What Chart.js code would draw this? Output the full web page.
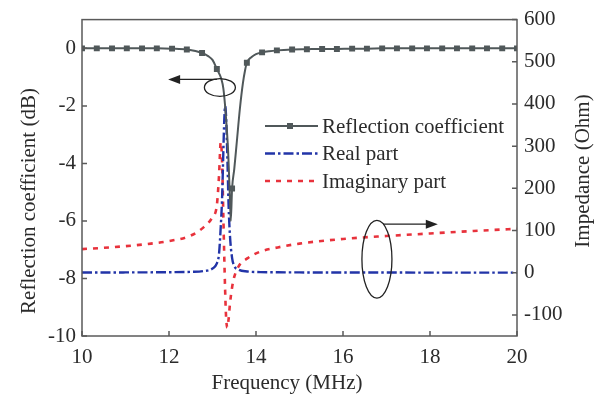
<!DOCTYPE html>
<html lang="en">
<head>
<meta charset="utf-8">
<title>Reflection coefficient and impedance</title>
<script src="https://cdn.jsdelivr.net/npm/chart.js@4/dist/chart.umd.min.js"></script>
<style>
  html, body { margin: 0; padding: 0; background: #fff; }
</style>
</head>
<body>
<canvas id="c" width="596" height="400"></canvas>
<script>
// Reflection coefficient (dB): marked samples plus extra points through the dip
const freqMarker = [10, 10.34, 10.69, 11.03, 11.38, 11.72, 12.07, 12.41, 12.76, 13.10,
                    13.45, 13.79, 14.14, 14.48, 14.83, 15.17, 15.52, 15.86, 16.21, 16.55,
                    16.90, 17.24, 17.59, 17.93, 18.28, 18.62, 18.97, 19.31, 19.66, 20];
const reflMarker = [0, 0, 0, 0, 0, 0, -0.01, -0.04, -0.16, -0.72,
                    -4.87, -0.5, -0.14, -0.07, -0.04, -0.03, -0.02, -0.02, -0.01, -0.01,
                    0, 0, 0, 0, 0, 0, 0, 0, 0, 0];
const freqDip = [12.9, 13.0, 13.2, 13.25, 13.3, 13.36, 13.40, 13.42, 13.5, 13.56, 13.63, 13.7, 13.75, 13.9, 14.0, 14.3];
const reflDip = [-0.27, -0.4, -1.05, -1.4, -2.2, -3.6, -5.2, -6.0, -4.2, -3.23, -2.09, -1.2, -0.75, -0.3, -0.2, -0.1];

// Impedance (Ohm)
const freqImp = [10, 10.5, 11, 11.5, 12, 12.5, 12.8, 13.0, 13.1, 13.15, 13.19, 13.22, 13.25, 13.27, 13.29, 13.31,
                 13.34, 13.37, 13.40, 13.45, 13.5, 13.6, 13.8, 14.1, 14.5, 15, 16, 17, 18, 19, 20];
const realPart = [0.5, 0.6, 0.7, 0.9, 1.2, 2, 4, 10, 22, 45, 110, 175, 290, 360, 395, 375,
                  280, 160, 90, 35, 16, 7, 3, 1.5, 1, 0.7, 0.5, 0.4, 0.3, 0.2, 0.2];
const imagPart = [56, 59, 63, 68, 75, 88, 108, 132, 160, 230, 310, 265, 130, 40, -40, -100,
                  -130, -110, -75, -35, -10, 15, 34, 50, 60, 69, 80, 87, 93, 99, 104];

const xTicks = [10, 12, 14, 16, 18, 20];
const dbTicks = [-10, -8, -6, -4, -2, 0];
const ohmTicks = [-100, 0, 100, 200, 300, 400, 500, 600];

const FONT = 'Liberation Serif, Times New Roman, serif';
const TXT = '#2b2b2b';

// merge marker samples and dip samples into one sorted curve
const reflPoints = freqMarker.map((f, i) => ({ x: f, y: reflMarker[i], m: true }))
  .concat(freqDip.map((f, i) => ({ x: f, y: reflDip[i], m: false })))
  .sort((a, b) => a.x - b.x);

const pairs = (xs, ys) => xs.map((f, i) => ({ x: f, y: ys[i] }));

const datasets = [
  {
    label: 'Reflection coefficient', yAxisID: 'y', data: reflPoints,
    borderColor: '#50585a', backgroundColor: '#50585a', borderWidth: 2,
    pointStyle: 'rect', pointRadius: c => (c.raw && c.raw.m ? 4.2 : 0),
    pointBorderWidth: 0, order: 0
  },
  {
    label: 'Real part', yAxisID: 'y1', data: pairs(freqImp, realPart),
    borderColor: '#2234a8', borderWidth: 2.4, borderDash: [10, 3, 2.5, 3],
    pointRadius: 0, order: 1
  },
  {
    label: 'Imaginary part', yAxisID: 'y1', data: pairs(freqImp, imagPart),
    borderColor: '#e8323c', borderWidth: 2.6, borderDash: [5, 6],
    pointRadius: 0, order: 2
  }
];

// ellipses and arrows, in data units of their own axis
const callouts = [
  { axis: 'y', cx: 13.17, cy: -1.36, rx: 0.356, ry: 0.31, ax0: 13.10, ax1: 11.98, ay: -1.08 },
  { axis: 'y1', cx: 16.78, cy: 32, rx: 0.345, ry: 92, ax0: 16.92, ax1: 18.18, ay: 115 }
];

function drawArrow(ctx, x0, y0, x1, y1) {
  const dir = Math.sign(x1 - x0);
  ctx.beginPath();
  ctx.moveTo(x0, y0);
  ctx.lineTo(x1 - dir * 8, y1);
  ctx.stroke();
  ctx.beginPath();
  ctx.moveTo(x1, y1);
  ctx.lineTo(x1 - dir * 12, y1 - 4.5);
  ctx.lineTo(x1 - dir * 12, y1 + 4.5);
  ctx.closePath();
  ctx.fill();
}

const decor = {
  id: 'decor',
  afterDatasetsDraw(chart) {
    const { ctx, chartArea: a, scales } = chart;
    const x = scales.x;
    ctx.save();

    // frame and inward ticks
    ctx.strokeStyle = '#5a5a5a';
    ctx.lineWidth = 1.5;
    ctx.strokeRect(a.left, a.top, a.right - a.left, a.bottom - a.top);
    ctx.beginPath();
    xTicks.forEach(v => { const p = x.getPixelForValue(v); ctx.moveTo(p, a.bottom); ctx.lineTo(p, a.bottom - 5); });
    dbTicks.forEach(v => { const p = scales.y.getPixelForValue(v); ctx.moveTo(a.left, p); ctx.lineTo(a.left + 5, p); });
    ohmTicks.forEach(v => { const p = scales.y1.getPixelForValue(v); ctx.moveTo(a.right, p); ctx.lineTo(a.right - 5, p); });
    ctx.stroke();

    // callouts
    ctx.strokeStyle = '#222';
    ctx.fillStyle = '#222';
    ctx.lineWidth = 1.3;
    callouts.forEach(c => {
      const ys = scales[c.axis];
      const px = x.getPixelForValue(c.cx), py = ys.getPixelForValue(c.cy);
      const rx = Math.abs(x.getPixelForValue(c.cx + c.rx) - px);
      const ry = Math.abs(ys.getPixelForValue(c.cy + c.ry) - py);
      ctx.beginPath();
      ctx.ellipse(px, py, rx, ry, 0, 0, Math.PI * 2);
      ctx.stroke();
      const ay = ys.getPixelForValue(c.ay);
      drawArrow(ctx, x.getPixelForValue(c.ax0), ay, x.getPixelForValue(c.ax1), ay);
    });

    // legend
    ctx.font = '21px ' + FONT;
    ctx.textBaseline = 'middle';
    ctx.textAlign = 'left';
    chart.data.datasets.forEach((ds, i) => {
      const ly = 126 + i * 27.5;
      ctx.strokeStyle = ds.borderColor;
      ctx.lineWidth = ds.borderWidth;
      ctx.setLineDash(ds.borderDash || []);
      ctx.beginPath();
      ctx.moveTo(265, ly);
      ctx.lineTo(318, ly);
      ctx.stroke();
      ctx.setLineDash([]);
      if (i === 0) {
        ctx.fillStyle = ds.backgroundColor;
        ctx.fillRect(287, ly - 3, 6, 6);
      }
      ctx.fillStyle = TXT;
      ctx.fillText(ds.label, 322, ly + 1);
    });

    // axis titles
    ctx.fillStyle = TXT;
    ctx.textAlign = 'center';
    ctx.fillText('Frequency (MHz)', 287, 383);
    ctx.save();
    ctx.translate(29, 201);
    ctx.rotate(-Math.PI / 2);
    ctx.fillText('Reflection coefficient (dB)', 0, 0);
    ctx.restore();
    ctx.save();
    ctx.translate(583, 171);
    ctx.rotate(-Math.PI / 2);
    ctx.fillText('Impedance (Ohm)', 0, 0);
    ctx.restore();

    ctx.restore();
  }
};

const tickFont = { family: FONT, size: 21 };
const noGrid = { display: false, drawTicks: false };

new Chart(document.getElementById('c'), {
  type: 'line',
  data: { datasets },
  options: {
    responsive: false,
    animation: false,
    layout: { padding: { top: 18, left: 0, right: 0, bottom: 0 } },
    elements: { line: { cubicInterpolationMode: 'monotone' } },
    plugins: { legend: { display: false }, tooltip: { enabled: false } },
    scales: {
      x: {
        type: 'linear', min: 10, max: 20,
        grid: noGrid, border: { display: false },
        afterBuildTicks: s => { s.ticks = xTicks.map(v => ({ value: v })); },
        afterFit: s => { s.height = 64; },
        ticks: { font: tickFont, color: TXT, padding: 9, maxRotation: 0 }
      },
      y: {
        type: 'linear', position: 'left', min: -10, max: 1,
        grid: noGrid, border: { display: false },
        afterBuildTicks: s => { s.ticks = dbTicks.map(v => ({ value: v })); },
        afterFit: s => { s.width = 82; },
        ticks: { font: tickFont, color: TXT, padding: 6 }
      },
      y1: {
        type: 'linear', position: 'right', min: -150, max: 600,
        grid: noGrid, border: { display: false },
        afterBuildTicks: s => { s.ticks = ohmTicks.map(v => ({ value: v })); },
        afterFit: s => { s.width = 79; },
        ticks: { font: tickFont, color: TXT, padding: 7 }
      }
    }
  },
  plugins: [decor]
});
</script>
</body>
</html>
